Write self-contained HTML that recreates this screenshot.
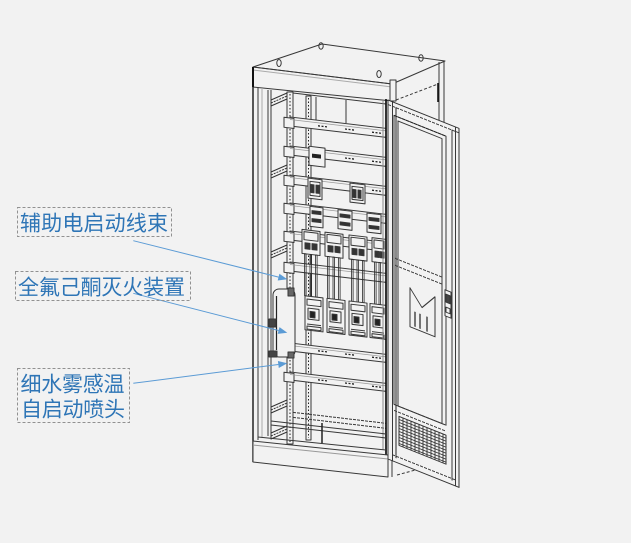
<!DOCTYPE html>
<html><head><meta charset="utf-8">
<style>
html,body{margin:0;padding:0;background:#f2f2f2;}
svg{display:block;}
</style></head><body>
<svg width="631" height="543" viewBox="0 0 631 543" xmlns="http://www.w3.org/2000/svg">
<rect width="631" height="543" fill="#f2f2f2"/>
<g fill="none" stroke="#383838" stroke-width="1" stroke-linejoin="round">
  <!-- top -->
  <polygon points="253,67 322,44 445,61 392,84"/>
  <polygon points="253,67 392,84 392,101 253,87"/>
  <line x1="253" y1="70" x2="392" y2="87" stroke="#aaa"/>
  <line x1="253" y1="67" x2="253" y2="87" stroke="#111" stroke-width="2"/>
  <ellipse cx="279" cy="63" rx="2.2" ry="3.5"/>
  <ellipse cx="321" cy="46" rx="2.2" ry="3.2"/>
  <ellipse cx="379" cy="74" rx="2.2" ry="3.5"/>
  <ellipse cx="421" cy="58" rx="2.2" ry="3.2"/>
  <!-- right back post -->
  <line x1="439" y1="62" x2="439" y2="130"/>
  <line x1="444" y1="61" x2="444" y2="130"/>
  <line x1="438" y1="83" x2="438" y2="102" stroke="#111" stroke-width="1.6"/>
  <line x1="396" y1="100" x2="438" y2="84" stroke-dasharray="3,2"/>
  <rect x="390" y="80" width="6" height="21" fill="#f2f2f2"/>

  <!-- left side -->
  <line x1="253" y1="87" x2="253" y2="462" stroke="#222" stroke-width="1.5"/>
  <line x1="258" y1="87" x2="258" y2="440"/>
  <line x1="262" y1="88" x2="262" y2="438" stroke="#aaa"/>
  <line x1="268" y1="90" x2="268" y2="436"/>
  <line x1="271" y1="90" x2="271" y2="436"/>
  <g stroke="#333">
    <polygon points="271,100 287,93 287,99 271,106"/><line x1="271" y1="103" x2="287" y2="96" stroke-dasharray="2,1"/>
    <polygon points="271,172 287,165 287,171 271,178"/><line x1="271" y1="175" x2="287" y2="168" stroke-dasharray="2,1"/>
    <polygon points="271,252 287,245 287,251 271,258"/><line x1="271" y1="255" x2="287" y2="248" stroke-dasharray="2,1"/>
    <polygon points="271,407 287,400 287,406 271,413"/><line x1="271" y1="410" x2="287" y2="403" stroke-dasharray="2,1"/>
    <polygon points="271,433 287,426 287,432 271,439"/><line x1="271" y1="436" x2="287" y2="429" stroke-dasharray="2,1"/>
  </g>
  <!-- back panel -->
  <line x1="293" y1="93" x2="386" y2="104"/>
  <line x1="316" y1="97" x2="316" y2="120"/>
  <line x1="346" y1="100" x2="346" y2="123"/>
  <!-- posts -->
  <rect x="287" y="92" width="6" height="352" fill="#f2f2f2"/>
  <line x1="290" y1="94" x2="290" y2="442" stroke="#222" stroke-dasharray="1.5,2"/>
  <rect x="306" y="96" width="5" height="344" fill="#f2f2f2"/>
  <line x1="308.5" y1="98" x2="308.5" y2="438" stroke="#222" stroke-dasharray="1.5,2"/>

  <!-- strips & components (skewed plane) -->
  <g transform="translate(0,-34.22) skewY(6.73)">
    <g fill="#f2f2f2">
      <rect x="290" y="117" width="96" height="9"/><rect x="284" y="118" width="10" height="10"/>
      <rect x="290" y="146" width="96" height="9"/><rect x="284" y="147" width="10" height="10"/>
      <rect x="290" y="175" width="96" height="9"/><rect x="284" y="176" width="10" height="10"/>
      <rect x="290" y="203" width="96" height="9"/><rect x="284" y="204" width="10" height="10"/>
      <rect x="290" y="231" width="96" height="9"/><rect x="284" y="232" width="10" height="10"/>
      <rect x="290" y="262" width="96" height="9"/><rect x="284" y="263" width="10" height="10"/>
      <rect x="290" y="343" width="96" height="8"/><rect x="284" y="344" width="10" height="9"/>
      <rect x="290" y="372" width="96" height="8"/><rect x="284" y="373" width="10" height="9"/>
    </g>
    <g stroke="#999" stroke-width="0.8">
      <path d="M290,119.5H386M290,148.5H386M290,177.5H386M290,205.5H386M290,233.5H386M290,264.5H386M290,345.5H386M290,374.5H386"/>
    </g>
    <g stroke="#222" stroke-width="1.3" stroke-dasharray="2,1.5">
      <path d="M318,122.5h10M345,122.5h10M372,122.5h10"/>
      <path d="M345,151.5h10M372,151.5h10"/>
      <path d="M372,180.5h10"/>
      <path d="M345,347.5h10M318,347.5h10M372,347.5h10"/>
      <path d="M318,376.5h10M345,376.5h10M372,376.5h10"/>
    </g>
    <!-- box and relays -->
    <rect x="309" y="144" width="16" height="19" fill="#f2f2f2"/>
    <rect x="312" y="151" width="9" height="4" fill="#222" stroke="none"/>
    <rect x="308" y="176" width="14" height="20" fill="#f2f2f2"/>
    <rect x="310" y="179" width="10" height="14"/>
    <rect x="311" y="182" width="3" height="8" fill="#333"/><rect x="316" y="182" width="3" height="8" fill="#333"/>
    <rect x="350" y="176" width="15" height="19" fill="#f2f2f2"/>
    <rect x="352" y="179" width="11" height="13"/>
    <rect x="353" y="182" width="3" height="8" fill="#333"/><rect x="358" y="182" width="3" height="8" fill="#333"/>
    <!-- terminal blocks -->
    <rect x="310" y="204" width="13" height="20" fill="#f2f2f2"/>
    <rect x="312" y="208" width="9" height="3" fill="#333"/><rect x="312" y="216" width="9" height="3" fill="#333"/>
    <rect x="338" y="204" width="14" height="19" fill="#f2f2f2"/>
    <rect x="340" y="208" width="10" height="3" fill="#333"/><rect x="340" y="216" width="10" height="3" fill="#333"/>
    <rect x="367" y="204" width="14" height="19" fill="#f2f2f2"/>
    <rect x="369" y="208" width="10" height="3" fill="#333"/><rect x="369" y="216" width="10" height="3" fill="#333"/>
    <!-- top breakers -->
    <g>
      <rect x="302" y="228" width="18" height="24" fill="#f2f2f2"/><rect x="304" y="230" width="14" height="8"/>
      <rect x="305" y="241" width="5" height="6" fill="#333"/><rect x="312" y="241" width="5" height="6" fill="#333"/>
      <rect x="325" y="228" width="18" height="24" fill="#f2f2f2"/><rect x="327" y="230" width="14" height="8"/>
      <rect x="328" y="241" width="5" height="6" fill="#333"/><rect x="335" y="241" width="5" height="6" fill="#333"/>
      <rect x="349" y="228" width="18" height="24" fill="#f2f2f2"/><rect x="351" y="230" width="14" height="8"/>
      <rect x="352" y="241" width="5" height="6" fill="#333"/><rect x="359" y="241" width="5" height="6" fill="#333"/>
      <rect x="372" y="228" width="14" height="24" fill="#f2f2f2"/><rect x="374" y="230" width="10" height="8"/>
      <rect x="375" y="241" width="4" height="6" fill="#333"/><rect x="380" y="241" width="4" height="6" fill="#333"/>
    </g>
    <!-- wires -->
    <g stroke="#2a2a2a" stroke-width="0.8">
      <rect x="304.5" y="252" width="1.6" height="42"/><rect x="310" y="252" width="1.6" height="42"/><rect x="315.5" y="252" width="1.6" height="42"/>
      <rect x="327.5" y="252" width="1.6" height="42"/><rect x="333" y="252" width="1.6" height="42"/><rect x="338.5" y="252" width="1.6" height="42"/>
      <rect x="351.5" y="252" width="1.6" height="42"/><rect x="357" y="252" width="1.6" height="42"/><rect x="362.5" y="252" width="1.6" height="42"/>
      <rect x="374.5" y="252" width="1.6" height="42"/><rect x="379" y="252" width="1.6" height="42"/>
    </g>
    <!-- bottom breakers -->
    <g>
      <rect x="305" y="294" width="18" height="34" fill="#f2f2f2"/><rect x="307" y="297" width="14" height="6"/>
      <rect x="308" y="306" width="11" height="11"/><rect x="310" y="309" width="5" height="6" fill="#222"/>
      <line x1="307" y1="322" x2="321" y2="322"/><rect x="307" y="324" width="14" height="3"/>
      <rect x="327" y="294" width="18" height="34" fill="#f2f2f2"/><rect x="329" y="297" width="14" height="6"/>
      <rect x="330" y="306" width="11" height="11"/><rect x="332" y="309" width="5" height="6" fill="#222"/>
      <line x1="329" y1="322" x2="343" y2="322"/><rect x="329" y="324" width="14" height="3"/>
      <rect x="349" y="294" width="18" height="34" fill="#f2f2f2"/><rect x="351" y="297" width="14" height="6"/>
      <rect x="352" y="306" width="11" height="11"/><rect x="354" y="309" width="5" height="6" fill="#222"/>
      <line x1="351" y1="322" x2="365" y2="322"/><rect x="351" y="324" width="14" height="3"/>
      <rect x="370" y="294" width="16" height="34" fill="#f2f2f2"/><rect x="372" y="297" width="12" height="6"/>
      <rect x="373" y="306" width="10" height="11"/><rect x="375" y="309" width="5" height="6" fill="#222"/>
      <line x1="372" y1="322" x2="384" y2="322"/><rect x="372" y="324" width="12" height="3"/>
    </g>
    <!-- floor rear rail -->
    <rect x="293" y="412" width="93" height="5" stroke-dasharray="3,1"/>
  </g>

  <!-- interior right edge -->
  <line x1="383" y1="100" x2="383" y2="450" stroke="#888"/>
  <line x1="386" y1="99" x2="386" y2="477" stroke="#111" stroke-width="1.7"/>

  <!-- extinguisher -->
  <rect x="273" y="289" width="22" height="68" rx="6" fill="#f2f2f2" stroke="#333"/>
  <line x1="276.5" y1="296" x2="276.5" y2="350" stroke="#222" stroke-width="1.2"/>
  <rect x="269" y="319" width="7" height="8" fill="#444"/>
  <rect x="269" y="351" width="8" height="6" fill="#444"/>
  <rect x="288" y="288" width="6" height="8" fill="#666"/>
  <rect x="288" y="352" width="6" height="6" fill="#666"/>

  <!-- floor & plinth -->
  <line x1="271" y1="421" x2="386" y2="434"/>
  <line x1="271" y1="425" x2="386" y2="438"/>
  <line x1="258" y1="437" x2="386" y2="450"/>
  <polygon points="253,441 388,455 388,477 253,462" fill="#f2f2f2"/>
  <line x1="253" y1="445" x2="388" y2="459" stroke="#999"/>
  <line x1="322" y1="423" x2="322" y2="443" stroke="#222" stroke-width="1.5"/>
  <line x1="392" y1="455" x2="392" y2="477"/>
  <line x1="397" y1="475" x2="445" y2="462" stroke-dasharray="3,2"/>

  <!-- door (skewed plane) -->
  <g transform="translate(0,-155.2) skewY(21.8)">
    <rect x="388" y="100" width="71" height="359" fill="#f2f2f2" stroke="#333"/>
    <line x1="392.5" y1="100" x2="392.5" y2="459"/>
    <line x1="396" y1="104" x2="396" y2="455" stroke="#222"/>
    <line x1="452" y1="104" x2="452" y2="455"/>
    <line x1="455.5" y1="100" x2="455.5" y2="459"/>
    <line x1="388" y1="104.5" x2="459" y2="104.5" stroke-dasharray="3,1"/>
    <rect x="394" y="113" width="52" height="289"/>
    <rect x="398" y="117" width="44" height="285"/>
    <line x1="394" y1="113" x2="446" y2="113" stroke-dasharray="3,1" stroke="#222"/>
    <line x1="395" y1="255.5" x2="443" y2="255.5" stroke-dasharray="3,1"/>
    <line x1="395" y1="262.5" x2="443" y2="262.5" stroke-dasharray="3,1"/>
    <line x1="394" y1="402" x2="446" y2="402" stroke-dasharray="3,1"/>
    <line x1="394" y1="408" x2="446" y2="408" stroke-dasharray="3,1"/>
    <!-- grille -->
    <rect x="399" y="412" width="47" height="29" stroke="#333"/>
    <g stroke="#333" stroke-width="0.9">
      <path d="M399,415H446M399,418H446M399,421H446M399,424H446M399,427H446M399,430H446M399,433H446M399,436H446M399,439H446"/>
      <path d="M403,412V441M407,412V441M411,412V441M415,412V441M419,412V441M423,412V441M427,412V441M431,412V441M435,412V441M439,412V441M443,412V441"/>
    </g>
    <line x1="392" y1="453" x2="455" y2="453" stroke-dasharray="3,1"/>
    <!-- handle symbol -->
    <path d="M410,279 L422,294 L435,278 L435,318 L410,318 Z"/>
    <path d="M415,301V316M420,301V316M427,301V316" stroke="#222" stroke-width="1.2"/>
    <!-- latch -->
    <rect x="445" y="267" width="6" height="26" fill="#f2f2f2"/>
    <rect x="446" y="271" width="4" height="8" fill="#444"/>
    <rect x="446" y="284" width="4" height="5"/>
  </g>
</g>

<!-- arrows -->
<g stroke="#5b9bd5" stroke-width="1" fill="#5b9bd5">
  <line x1="133.3" y1="240.7" x2="278.6" y2="277.1"/>
  <polygon points="287.3,279.3 277.7,280.5 279.4,273.7" stroke="none"/>
  <line x1="133.3" y1="293.3" x2="278.6" y2="330.5"/>
  <polygon points="287.3,332.7 279.5,327.1 277.7,333.9" stroke="none"/>
  <line x1="133.3" y1="383.3" x2="278.4" y2="364.5"/>
  <polygon points="287.3,363.3 278.8,368.0 277.9,361.0" stroke="none"/>
</g>

<!-- label boxes -->
<g fill="none" stroke="#919191" stroke-width="1" stroke-dasharray="3,2">
  <rect x="17.5" y="207.5" width="154" height="29"/>
  <rect x="15.5" y="271.5" width="175" height="29"/>
  <rect x="17.5" y="368.5" width="112" height="54"/>
</g>
<g fill="#2e75b6" font-family="'Liberation Sans','Noto Sans CJK SC','WenQuanYi Zen Hei',sans-serif" font-size="21">
  <text x="20" y="230.5" textLength="148">辅助电启动线束</text>
  <text x="18" y="294.5" textLength="167">全氟己酮灭火装置</text>
  <text x="20.5" y="391.5" textLength="104">细水雾感温</text>
  <text x="21" y="416.5" textLength="104">自启动喷头</text>
</g>
</svg>
</body></html>
